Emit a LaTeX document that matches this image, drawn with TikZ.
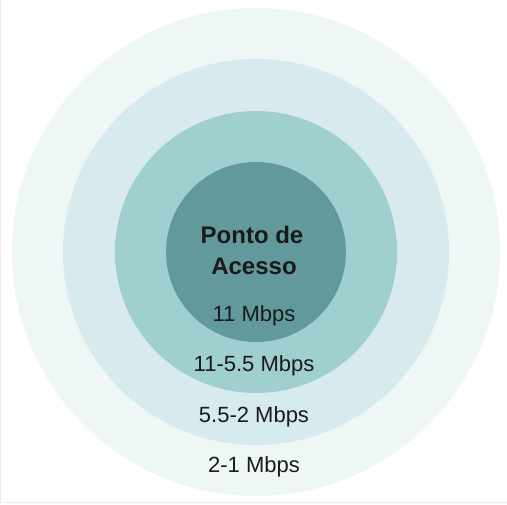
\documentclass[tikz,border=0pt]{standalone}
\usepackage{fontspec}
\setmainfont{Liberation Sans}
\definecolor{ringA}{HTML}{EEF6F6}
\definecolor{ringB}{HTML}{D7EAEE}
\definecolor{ringC}{HTML}{A0CFCF}
\definecolor{ringD}{HTML}{629A9B}
\definecolor{txt}{HTML}{1A1A1A}
\begin{document}
\begin{tikzpicture}[x=1pt,y=-1pt,
  lbl/.style={anchor=base,inner sep=0pt,text=txt,font=\fontsize{22}{25}\selectfont},
  title/.style={anchor=base,inner sep=0pt,text=txt,font=\fontsize{24}{27}\selectfont\bfseries}]
\useasboundingbox (0,0) rectangle (507,505);
\fill[white] (0,0) rectangle (507,505);
\draw[gray!15,line width=1pt] (0.5,0) -- (0.5,503) -- (507,503);
\coordinate (c) at (256,252);
\fill[ringA] (c) circle[radius=244pt];
\fill[ringB] (c) circle[radius=193pt];
\fill[ringC] (c) circle[radius=141pt];
\fill[ringD] (c) circle[radius=90pt];
\node[title] (t1) at (252,244) {Ponto de};
\node[title] (t2) at (254,275) {Acesso};
\node[lbl] (l1) at (254,322) {11 Mbps};
\node[lbl] (l2) at (254,372) {11-5.5 Mbps};
\node[lbl] (l3) at (254,423) {5.5-2 Mbps};
\node[lbl] (l4) at (254,473) {2-1 Mbps};
\end{tikzpicture}
\end{document}
